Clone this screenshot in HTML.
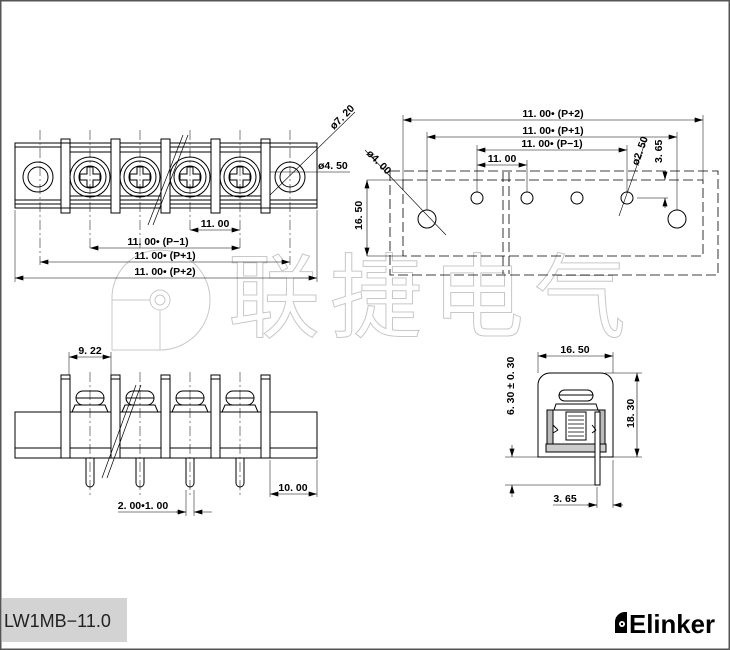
<!DOCTYPE html>
<html><head><meta charset="utf-8"><style>
html,body{margin:0;padding:0;background:#fff}
svg{display:block}
.t{font-family:"Liberation Sans Narrow","Liberation Sans",sans-serif;font-weight:bold;font-size:10.5px;fill:#000}
</style></head><body>
<svg width="730" height="650" viewBox="0 0 730 650" xmlns="http://www.w3.org/2000/svg">
<defs>
<marker id="a" viewBox="0 0 10 6" refX="10" refY="3" markerWidth="9" markerHeight="5" orient="auto-start-reverse" markerUnits="userSpaceOnUse"><path d="M0,0L10,3L0,6z" fill="#000"/></marker>
</defs>
<rect x="0.75" y="0.75" width="728.5" height="648.5" fill="#fff" stroke="#555" stroke-width="1.5"/>

<!-- watermark -->
<g fill="#fff" stroke="#c8c8c8" stroke-width="1">
<path d="M160,250 A50,50 0 1 1 160,350 L112,350 L112,300 A48,48 0 0 1 160,250z"/>
<circle cx="160" cy="300" r="10"/><circle cx="160" cy="300" r="5"/>
<line x1="112" y1="300" x2="150" y2="300"/><line x1="160" y1="310" x2="160" y2="350"/>
<text x="228" y="330" font-family="Noto Sans CJK SC, sans-serif" font-size="92" letter-spacing="10">联捷电气</text>
</g>

<g fill="none" stroke="#000" stroke-width="1">
<!-- ===== top-left view ===== -->
<rect x="15" y="143" width="302" height="65"/>
<line x1="15" y1="147" x2="317" y2="147"/>
<line x1="15" y1="200" x2="317" y2="200"/>
<line x1="15" y1="204" x2="317" y2="204"/>
<line x1="69" y1="152" x2="261" y2="152"/>
<line x1="69" y1="196" x2="261" y2="196"/>
<circle cx="38" cy="177" r="15"/><circle cx="38" cy="177" r="10"/>
<circle cx="290" cy="177" r="15"/><circle cx="290" cy="177" r="10"/>
<g id="scr">
<circle cx="90" cy="177" r="20"/><circle cx="90" cy="177" r="16"/><circle cx="90" cy="177" r="11"/>
<path d="M87,167 h6 v7 h7 v6 h-7 v7 h-6 v-7 h-7 v-6 h7z"/>
</g>
<use href="#scr" x="50"/><use href="#scr" x="100"/><use href="#scr" x="150"/>
<g fill="#fff">
<rect x="61" y="139" width="9" height="74"/><rect x="111" y="139" width="9" height="74"/>
<rect x="161" y="139" width="9" height="74"/><rect x="211" y="139" width="9" height="74"/>
<rect x="261" y="139" width="9" height="74"/>
</g>
<line x1="61" y1="143" x2="70" y2="143"/><line x1="61" y1="208" x2="70" y2="208"/>
<line x1="261" y1="143" x2="270" y2="143"/><line x1="261" y1="208" x2="270" y2="208"/>
<!-- break -->
<line x1="148" y1="225" x2="183" y2="135" stroke-width="0.7"/>
<line x1="153" y1="225" x2="188" y2="135" stroke-width="0.7"/>
<!-- center lines -->
<g stroke-width="0.5" stroke-dasharray="10,3,2,3">
<line x1="90" y1="130" x2="90" y2="250"/><line x1="140" y1="130" x2="140" y2="250"/>
<line x1="190" y1="130" x2="190" y2="232"/><line x1="240" y1="130" x2="240" y2="250"/>
<line x1="40" y1="130" x2="40" y2="265"/><line x1="290" y1="130" x2="290" y2="265"/>
</g>
<line x1="15" y1="210" x2="15" y2="282" stroke-width="0.5"/>
<line x1="317" y1="210" x2="317" y2="282" stroke-width="0.5"/>
<g stroke-width="0.6">
<line x1="190" y1="230" x2="240" y2="230" marker-start="url(#a)" marker-end="url(#a)"/>
<line x1="90" y1="248" x2="240" y2="248" marker-start="url(#a)" marker-end="url(#a)"/>
<line x1="40" y1="262" x2="290" y2="262" marker-start="url(#a)" marker-end="url(#a)"/>
<line x1="15" y1="278" x2="317" y2="278" marker-start="url(#a)" marker-end="url(#a)"/>
<line x1="270" y1="195" x2="355" y2="112"/>
<line x1="270" y1="172" x2="350" y2="172"/>
</g>

<!-- ===== top-right view ===== -->
<g stroke-width="0.8" stroke-dasharray="10,4">
<rect x="390" y="171" width="328" height="104"/>
<rect x="403" y="180" width="300" height="76"/>
<line x1="503" y1="172" x2="503" y2="274"/><line x1="509" y1="172" x2="509" y2="274"/>
</g>
<circle cx="477" cy="198" r="6"/><circle cx="527" cy="198" r="6"/>
<circle cx="577" cy="198" r="6"/><circle cx="627" cy="198" r="6"/>
<circle cx="427" cy="219" r="9"/><circle cx="677" cy="219" r="9"/>
<g stroke-width="0.5">
<line x1="403" y1="115" x2="403" y2="180"/><line x1="703" y1="115" x2="703" y2="180"/>
<line x1="427" y1="132" x2="427" y2="210"/><line x1="677" y1="132" x2="677" y2="210"/>
<line x1="477" y1="145" x2="477" y2="192"/><line x1="527" y1="160" x2="527" y2="192"/>
<line x1="627" y1="145" x2="627" y2="192"/>
<line x1="367" y1="180" x2="403" y2="180"/><line x1="367" y1="256" x2="403" y2="256"/>
<line x1="637" y1="198" x2="668" y2="198"/>
</g>
<g stroke-width="0.6">
<line x1="403" y1="120" x2="703" y2="120" marker-start="url(#a)" marker-end="url(#a)"/>
<line x1="427" y1="137" x2="677" y2="137" marker-start="url(#a)" marker-end="url(#a)"/>
<line x1="477" y1="150" x2="627" y2="150" marker-start="url(#a)" marker-end="url(#a)"/>
<line x1="477" y1="165" x2="527" y2="165" marker-start="url(#a)" marker-end="url(#a)"/>
<line x1="367" y1="180" x2="367" y2="256" marker-start="url(#a)" marker-end="url(#a)"/>
<line x1="665" y1="172" x2="665" y2="180" marker-end="url(#a)"/>
<line x1="665" y1="208" x2="665" y2="198" marker-end="url(#a)"/>
<line x1="365" y1="150" x2="446" y2="235"/>
<line x1="646" y1="140" x2="619" y2="216"/>
</g>

<!-- ===== bottom-left view ===== -->
<rect x="15" y="412" width="302" height="46"/>
<line x1="15" y1="448" x2="317" y2="448"/>
<g id="sh">
<path d="M75,405 L105,405 L108,412 L72,412z"/>
<rect x="76" y="391" width="28" height="14" rx="7"/>
<line x1="76" y1="398" x2="104" y2="398"/>
<path d="M86,458 V483 a4,4 0 0 0 8,0 V458"/>
</g>
<use href="#sh" x="50"/><use href="#sh" x="100"/><use href="#sh" x="150"/>
<g fill="#fff">
<rect x="61" y="375" width="9" height="83"/><rect x="111" y="375" width="9" height="83"/>
<rect x="161" y="375" width="9" height="83"/><rect x="211" y="375" width="9" height="83"/>
<rect x="261" y="375" width="9" height="83"/>
</g>
<line x1="61" y1="379" x2="70" y2="379"/><line x1="111" y1="379" x2="120" y2="379"/>
<line x1="161" y1="379" x2="170" y2="379"/><line x1="211" y1="379" x2="220" y2="379"/>
<line x1="261" y1="379" x2="270" y2="379"/>
<line x1="102" y1="478" x2="136" y2="385" stroke-width="0.7"/>
<line x1="107" y1="478" x2="141" y2="385" stroke-width="0.7"/>
<g stroke-width="0.5" stroke-dasharray="10,3,2,3">
<line x1="90" y1="372" x2="90" y2="495"/><line x1="140" y1="372" x2="140" y2="495"/>
<line x1="190" y1="372" x2="190" y2="495"/><line x1="240" y1="372" x2="240" y2="495"/>
</g>
<g stroke-width="0.5">
<line x1="69" y1="352" x2="69" y2="375"/><line x1="111" y1="352" x2="111" y2="375"/>
<line x1="270" y1="460" x2="270" y2="497"/><line x1="317" y1="460" x2="317" y2="497"/>
<line x1="186" y1="490" x2="186" y2="516"/><line x1="194" y1="490" x2="194" y2="516"/>
</g>
<g stroke-width="0.6">
<line x1="69" y1="357" x2="111" y2="357" marker-start="url(#a)" marker-end="url(#a)"/>
<line x1="270" y1="494" x2="317" y2="494" marker-start="url(#a)" marker-end="url(#a)"/>
<line x1="118" y1="512" x2="186" y2="512"/>
<line x1="176" y1="512" x2="186" y2="512" marker-end="url(#a)"/>
<line x1="212" y1="512" x2="194" y2="512" marker-end="url(#a)"/>
</g>

<!-- ===== right side view ===== -->
<path d="M538,457 V385 a12,12 0 0 1 12,-12 H601 a12,12 0 0 1 12,12 V457 z"/>
<rect x="559" y="390" width="34" height="11" rx="5.5"/>
<line x1="559" y1="395" x2="593" y2="395"/>
<path d="M556,404 H596 L598,410 H554z"/>
<rect x="566" y="412" width="20" height="28"/>
<path d="M568,416 h16 M568,420 h16 M568,424 h16 M568,428 h16 M568,432 h16 M568,436 h16" stroke-width="0.8"/>
<rect x="547" y="410" width="6" height="42" fill="#bbb"/>
<rect x="599" y="410" width="6" height="42" fill="#bbb"/>
<rect x="546" y="444" width="60" height="8" fill="#ccc"/>
<rect x="595" y="412" width="5" height="73" fill="#fff"/>
<path d="M553,425 l5,5 M553,433 l5,-3 M592,425 l4,5 M592,433 l4,-3"/>
<g stroke-width="0.5">
<line x1="538" y1="352" x2="538" y2="373"/><line x1="613" y1="352" x2="613" y2="373"/>
<line x1="605" y1="373" x2="642" y2="373"/><line x1="613" y1="457" x2="642" y2="457"/>
<line x1="505" y1="457" x2="538" y2="457"/><line x1="505" y1="485" x2="597" y2="485"/>
<line x1="597" y1="487" x2="597" y2="508"/><line x1="613" y1="460" x2="613" y2="508"/>
</g>
<g stroke-width="0.6">
<line x1="538" y1="356" x2="613" y2="356" marker-start="url(#a)" marker-end="url(#a)"/>
<line x1="637" y1="373" x2="637" y2="457" marker-start="url(#a)" marker-end="url(#a)"/>
<line x1="512" y1="445" x2="512" y2="457" marker-end="url(#a)"/>
<line x1="512" y1="497" x2="512" y2="485" marker-end="url(#a)"/>
<line x1="553" y1="505" x2="597" y2="505"/>
<line x1="587" y1="505" x2="597" y2="505" marker-end="url(#a)"/>
<line x1="623" y1="505" x2="613" y2="505" marker-end="url(#a)"/>
</g>
</g>

<!-- text -->
<text class="t" x="215" y="227" text-anchor="middle">11. 00</text>
<text class="t" x="158" y="245" text-anchor="middle">11. 00• (P−1)</text>
<text class="t" x="165" y="259" text-anchor="middle">11. 00• (P+1)</text>
<text class="t" x="165" y="275" text-anchor="middle">11. 00• (P+2)</text>
<text class="t" transform="translate(334,130) rotate(-45)">ø7. 20</text>
<text class="t" x="318" y="169">ø4. 50</text>
<text class="t" x="553" y="117" text-anchor="middle">11. 00• (P+2)</text>
<text class="t" x="553" y="134" text-anchor="middle">11. 00• (P+1)</text>
<text class="t" x="552" y="147" text-anchor="middle">11. 00• (P−1)</text>
<text class="t" x="502" y="162" text-anchor="middle">11. 00</text>
<text class="t" transform="translate(366,154) rotate(45)">ø4. 00</text>
<text class="t" transform="translate(638,166) rotate(-70)">ø2. 50</text>
<text class="t" transform="translate(362,230) rotate(-90)">16. 50</text>
<text class="t" transform="translate(662,163) rotate(-90)">3. 65</text>
<text class="t" x="90" y="354" text-anchor="middle">9. 22</text>
<text class="t" x="293" y="491" text-anchor="middle">10. 00</text>
<text class="t" x="143" y="509" text-anchor="middle">2. 00•1. 00</text>
<text class="t" x="575" y="353" text-anchor="middle">16. 50</text>
<text class="t" transform="translate(634,428) rotate(-90)">18. 30</text>
<text class="t" transform="translate(514,415) rotate(-90)">6. 30 ± 0. 30</text>
<text class="t" x="565" y="502" text-anchor="middle">3. 65</text>

<!-- footer -->
<rect x="2" y="598" width="125" height="44" fill="#d3d3d3"/>
<text x="4" y="627" font-family="Liberation Sans, sans-serif" font-size="18" fill="#222">LW1MB−11.0</text>
<g transform="translate(615,612)">
<path d="M0,21 V9 a10,10 0 0 1 10,-9 H12 V21z" fill="#000"/>
<circle cx="7" cy="12" r="3" fill="#fff"/><circle cx="7" cy="12" r="1.2" fill="#000"/>
<text x="14" y="21" font-family="Liberation Sans Narrow, Liberation Sans, sans-serif" font-weight="bold" font-size="26" fill="#000" textLength="86" lengthAdjust="spacingAndGlyphs">Elinker</text>
</g>
</svg>
</body></html>
